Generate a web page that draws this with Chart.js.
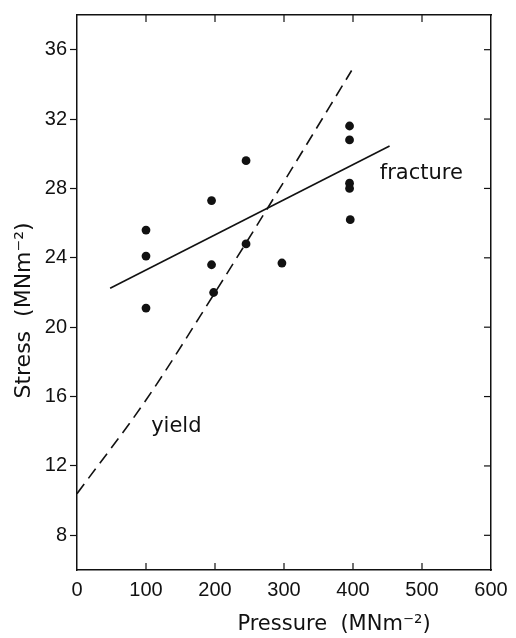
<!DOCTYPE html>
<html><head><meta charset="utf-8">
<script src="https://cdn.jsdelivr.net/npm/chart.js@4/dist/chart.umd.min.js"></script>
<style>html,body{margin:0;padding:0;background:#fff;}</style>
</head><body>
<canvas id="c" width="516" height="638"></canvas>
<script>
// ---- data ----
const xTicks = [0, 100, 200, 300, 400, 500, 600];
const yTicks = [8, 12, 16, 20, 24, 28, 32, 36];
const pointPressure = [100, 100, 100, 195, 195, 198, 245, 245, 297, 395, 395, 395, 395, 396];
const pointStress   = [25.6, 24.1, 21.1, 27.3, 23.6, 22.0, 29.6, 24.8, 23.7, 31.6, 30.8, 28.3, 28.0, 26.2];
const fracturePressure = [48, 453];
const fractureStress   = [22.25, 30.45];
const yieldPressure = [0, 100, 200, 300, 398];
const yieldStress   = [10.4, 15.8, 22.0, 28.4, 34.8];
const lineLabels = ['fracture', 'yield'];
const lineLabelPressure = [499, 144];
const lineLabelStress = [28.85, 14.3];
const xTitle = 'Pressure  (MNm⁻²)';
const yTitle = 'Stress  (MNm⁻²)';

const black = '#111';
const tickFont = {family: '"Liberation Sans", Arial, sans-serif', size: 20};

const annotate = {
  id: 'annotate',
  afterDraw(chart) {
    const ctx = chart.ctx, a = chart.chartArea, sx = chart.scales.x, sy = chart.scales.y;
    ctx.save();
    ctx.strokeStyle = black; ctx.lineWidth = 1.2;
    const seg = (x1, y1, x2, y2) => { ctx.beginPath(); ctx.moveTo(x1, y1); ctx.lineTo(x2, y2); ctx.stroke(); };
    // inward tick marks on bottom, top and right edges
    xTicks.slice(1, -1).forEach(v => {
      const px = sx.getPixelForValue(v);
      seg(px, a.bottom, px, a.bottom - 7);
      seg(px, a.top, px, a.top + 7);
    });
    yTicks.forEach(v => {
      const py = sy.getPixelForValue(v);
      seg(a.right, py, a.right - 7, py);
    });
    ctx.fillStyle = black;
    ctx.textAlign = 'center'; ctx.textBaseline = 'middle';
    // line labels
    ctx.font = '21px "DejaVu Sans", sans-serif';
    lineLabels.forEach((t, i) => {
      ctx.fillText(t, sx.getPixelForValue(lineLabelPressure[i]), sy.getPixelForValue(lineLabelStress[i]));
    });
    // axis titles
    ctx.font = '21px "DejaVu Sans", sans-serif';
    ctx.fillText(xTitle, (a.left + a.right) / 2 + 50, chart.height - 13);
    ctx.save();
    ctx.translate(24, (a.top + a.bottom) / 2 + 18);
    ctx.rotate(-Math.PI / 2);
    ctx.font = '22px "DejaVu Sans", sans-serif';
    ctx.fillText(yTitle, 0, 0);
    ctx.restore();
    ctx.restore();
  }
};

new Chart(document.getElementById('c'), {
  type: 'scatter',
  data: {
    datasets: [
      {
        data: pointPressure.map((x, i) => ({x, y: pointStress[i]})),
        showLine: false, pointRadius: 4.4, pointBorderWidth: 0,
        backgroundColor: black, borderColor: black
      },
      {
        data: fracturePressure.map((x, i) => ({x, y: fractureStress[i]})),
        showLine: true, pointRadius: 0, borderColor: black, borderWidth: 1.6
      },
      {
        data: yieldPressure.map((x, i) => ({x, y: yieldStress[i]})),
        showLine: true, pointRadius: 0, borderColor: black, borderWidth: 1.6,
        borderDash: [12, 7], cubicInterpolationMode: 'monotone'
      }
    ]
  },
  options: {
    responsive: false, animation: false,
    layout: {padding: 0},
    plugins: {legend: {display: false}, tooltip: {enabled: false}},
    scales: {
      x: {
        type: 'linear', position: 'bottom', min: 0, max: 600,
        afterBuildTicks: s => { s.ticks = xTicks.map(v => ({value: v})); },
        afterFit: s => { s.height = 68; },
        grid: {drawOnChartArea: false, drawTicks: false},
        border: {display: true, color: black, width: 1.5},
        ticks: {font: tickFont, color: black, padding: 8, maxRotation: 0, autoSkip: false}
      },
      y: {
        type: 'linear', position: 'left', min: 6, max: 38,
        afterBuildTicks: s => { s.ticks = yTicks.map(v => ({value: v})); },
        afterFit: s => { s.width = 77; },
        grid: {drawOnChartArea: false, drawTicks: true, tickLength: 7, color: black, tickWidth: 1.2},
        border: {display: true, color: black, width: 1.5},
        ticks: {font: tickFont, color: black, padding: 3, autoSkip: false}
      },
      x2: {
        type: 'linear', position: 'top', min: 0, max: 600,
        afterFit: s => { s.height = 13; },
        grid: {drawOnChartArea: false, drawTicks: false},
        border: {display: true, color: black, width: 1.5},
        ticks: {display: false}
      },
      y2: {
        type: 'linear', position: 'right', min: 6, max: 38,
        afterFit: s => { s.width = 25; },
        grid: {drawOnChartArea: false, drawTicks: false},
        border: {display: true, color: black, width: 1.5},
        ticks: {display: false}
      }
    }
  },
  plugins: [annotate]
});
</script>
</body></html>
